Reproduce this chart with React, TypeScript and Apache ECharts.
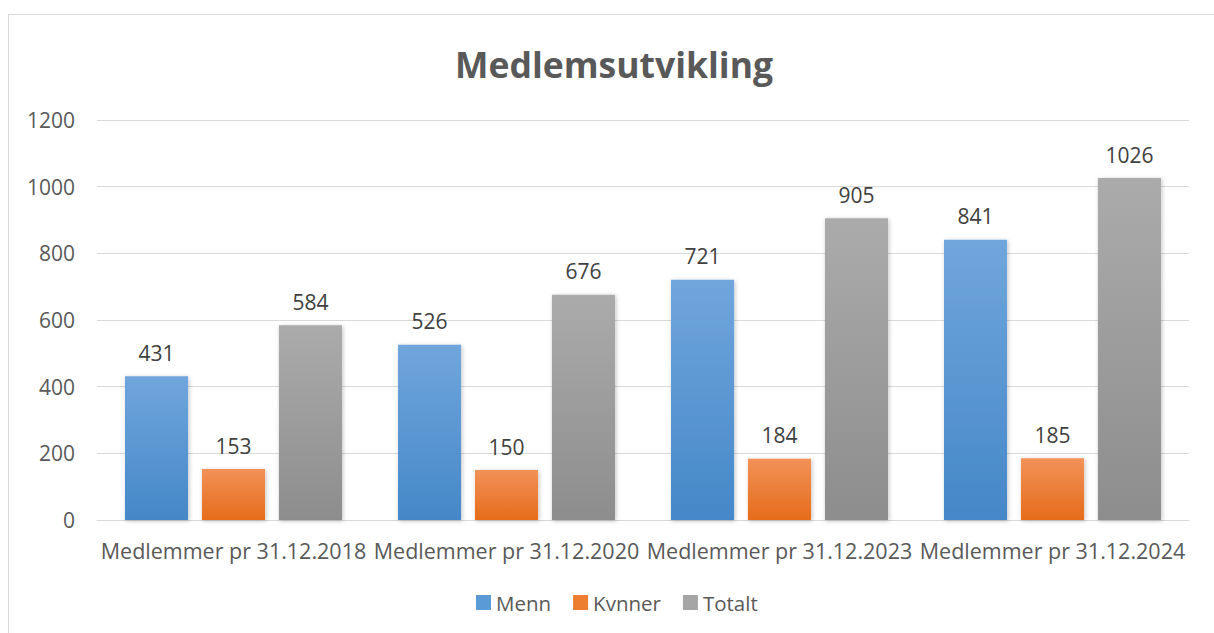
import React, { useEffect, useRef } from "react";
import * as echarts from "echarts";

const categories = [
  "Medlemmer pr 31.12.2018",
  "Medlemmer pr 31.12.2020",
  "Medlemmer pr 31.12.2023",
  "Medlemmer pr 31.12.2024",
];
const menn = [431, 526, 721, 841];
const kvinner = [153, 150, 184, 185];
const totalt = [584, 676, 905, 1026];
const yTicks = { min: 0, max: 1200, interval: 200 };

const FONT = "'Open Sans', 'Liberation Sans', sans-serif";

function grad(top: string, bottom: string) {
  return new echarts.graphic.LinearGradient(0, 0, 0, 1, [
    { offset: 0, color: top },
    { offset: 1, color: bottom },
  ]);
}

export default function App() {
  const ref = useRef<HTMLDivElement>(null);
  useEffect(() => {
    document.body.style.margin = "0";
    const chart = echarts.init(ref.current!, null, { renderer: "svg" });
    const label = {
      show: true,
      position: "top" as const,
      distance: 13,
      color: "#404040",
      fontSize: 21,
      fontFamily: FONT,
    };
    const mk = (name: string, data: number[], top: string, bottom: string) => ({
      name,
      type: "bar" as const,
      data,
      barGap: "22%",
      barCategoryGap: "20.5%",
      label,
      itemStyle: {
        color: grad(top, bottom),
        shadowColor: "rgba(0,0,0,0.25)",
        shadowBlur: 4,
        shadowOffsetX: 1,
        shadowOffsetY: 1,
      },
    });
    chart.setOption({
      animation: false,
      title: {
        text: "Medlemsutvikling",
        left: 450,
        top: 41,
        textStyle: { fontSize: 35.5, fontWeight: "bold", color: "#595959", fontFamily: FONT },
      },
      legend: {
        bottom: 15,
        left: 471,
        itemWidth: 15,
        itemHeight: 15,
        itemGap: 22,
        icon: "rect",
        textStyle: { fontSize: 20.5, color: "#595959", fontFamily: FONT },
        data: [
          { name: "Menn", itemStyle: { color: "#5b9bd5" } },
          { name: "Kvnner", itemStyle: { color: "#ed7d31" } },
          { name: "Totalt", itemStyle: { color: "#a5a5a5" } },
        ],
      },
      grid: { left: 97, right: 25, top: 120, bottom: 113 },
      xAxis: {
        type: "category",
        data: categories,
        axisLine: { lineStyle: { color: "#d9d9d9", width: 1 } },
        axisTick: { show: false },
        axisLabel: { fontSize: 21.5, color: "#595959", fontFamily: FONT, margin: 19, interval: 0 },
      },
      yAxis: {
        type: "value",
        min: yTicks.min,
        max: yTicks.max,
        interval: yTicks.interval,
        axisLine: { show: false },
        axisTick: { show: false },
        splitLine: { lineStyle: { color: "#d9d9d9", width: 1 } },
        axisLabel: {
          fontSize: 21,
          color: "#595959",
          fontFamily: FONT,
          margin: 22,
          formatter: (v: number) => String(v),
        },
      },
      series: [
        mk("Menn", menn, "#70a6dc", "#4587c8"),
        mk("Kvnner", kvinner, "#f29158", "#e56c1b"),
        mk("Totalt", totalt, "#ababab", "#8d8d8d"),
      ],
    });
    return () => chart.dispose();
  }, []);
  return (
    <div style={{ position: "fixed", left: 0, top: 0, width: 1214, height: 633, background: "#fff" }}>
      <div
        style={{
          position: "absolute",
          left: 8,
          top: 14,
          width: 1220,
          height: 640,
          border: "1.5px solid #d9d9d9",
          boxSizing: "border-box",
        }}
      />
      <div ref={ref} style={{ position: "absolute", left: 0, top: 0, width: 1214, height: 633 }} />
    </div>
  );
}
